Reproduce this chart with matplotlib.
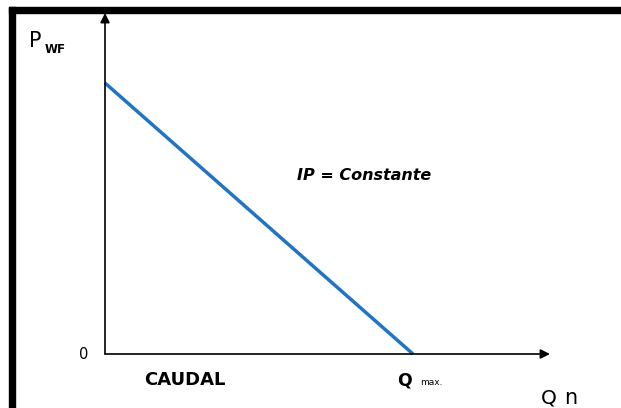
import matplotlib
matplotlib.use("Agg")
import matplotlib.pyplot as plt
from matplotlib.patches import Rectangle

# IPR curve: straight line, IP = constant
q_values = [0.0, 1.0]      # Q / Qmax
p_values = [1.0, 0.0]      # Pwf / Pr

W, H = 621, 408
fig = plt.figure(figsize=(W / 100, H / 100), dpi=100, facecolor="w")

# frame bars (left and top) like the original picture
fig.patches.append(Rectangle((9 / W, 0), 6 / W, (H - 7) / H, transform=fig.transFigure,
                             color="k", zorder=0))
fig.patches.append(Rectangle((9 / W, (H - 13) / H), (W - 9) / W, 6 / H,
                             transform=fig.transFigure, color="k", zorder=0))

# axes: origin at pixel (105, 354), right end 550, top 13
x0, y0, x1, y1 = 105, 354, 550, 13
ax = fig.add_axes([x0 / W, (H - y0) / H, (x1 - x0) / W, (y0 - y1) / H])
ax.set_xlim(0, (x1 - x0) / (413 - x0))
ax.set_ylim(0, (y0 - y1) / (y0 - 83))
ax.axis("off")

xmax = ax.get_xlim()[1]
ymax = ax.get_ylim()[1]
arrow = dict(arrowstyle="-|>", color="k", lw=1.2, mutation_scale=14, shrinkA=0, shrinkB=0)
ax.annotate("", xy=(xmax, 0), xytext=(0, 0), arrowprops=arrow, annotation_clip=False)
ax.annotate("", xy=(0, ymax), xytext=(0, 0), arrowprops=arrow, annotation_clip=False)

ax.plot(q_values, p_values, color="#1f74c6", lw=2.5, solid_capstyle="butt", clip_on=False)

font = "DejaVu Sans"
def label(x, y, s, size, **kw):
    fig.text(x / W, 1 - y / H, s, fontsize=size, family=font, va="baseline", **kw)

label(29, 47, "P", 15)
label(45, 53, "WF", 8.5, weight="bold")
label(79, 359, "0", 10.5)
label(144, 385, "CAUDAL", 13, weight="bold")
label(397, 385, "Q", 12.5, weight="bold")
label(420, 385, "max.", 6.5)
label(541, 404, "Q", 14.5)
label(564, 404, "n", 15)
label(297, 180, "IP = Constante", 11.5, style="italic", weight="bold")

fig.savefig("out.png", dpi=100, facecolor="w")
